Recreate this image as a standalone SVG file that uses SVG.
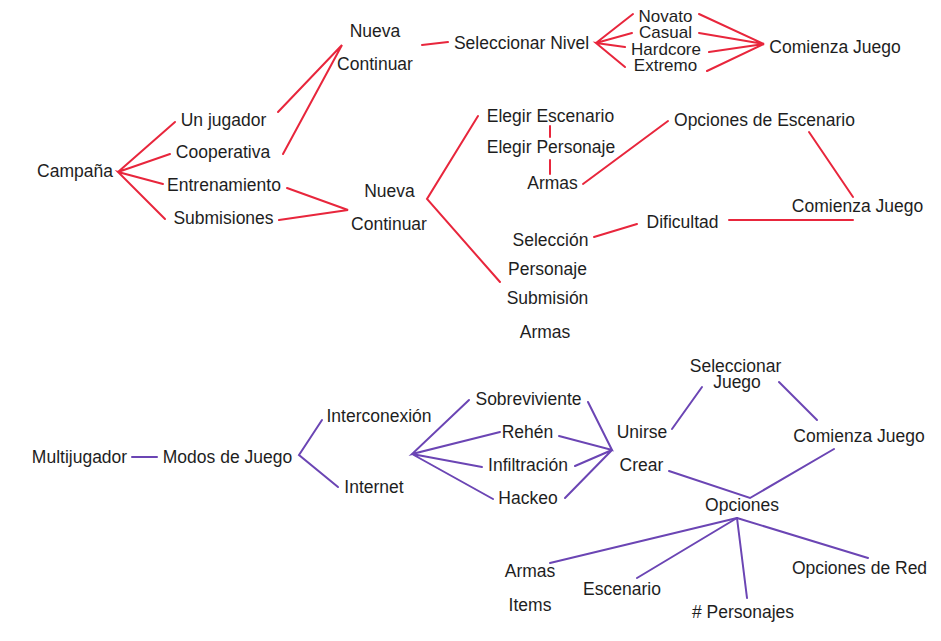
<svg xmlns="http://www.w3.org/2000/svg" width="941" height="641" viewBox="0 0 941 641">
<style>
text{font-family:"Liberation Sans",Arial,sans-serif;font-size:17.5px;fill:#1e1e1e;text-anchor:middle}
text.s{font-size:17px}
.r line,.r polyline{stroke:#e8263c;stroke-width:2;fill:none;stroke-linecap:round;stroke-linejoin:miter}
.p line,.p polyline{stroke:#6b45b4;stroke-width:2;fill:none;stroke-linecap:round;stroke-linejoin:miter}
</style>
<rect width="941" height="641" fill="#ffffff"/>
<g id="connectors">
<g class="r">
<polyline points="175,122 118,172 170,154"/>
<polyline points="163,184 118,172 165,219"/>
<polyline points="278,112 342,45 283,154"/>
<polyline points="287,188 348,210 279,220"/>
<line x1="422" y1="45" x2="448" y2="42"/>
<polyline points="633,14 596,43 632,33"/>
<polyline points="625,47 596,43 625,67"/>
<polyline points="699,14 764,44 699,33"/>
<polyline points="709,52 764,44 707,71"/>
<polyline points="478,116 427,199 500,282"/>
<line x1="550" y1="126" x2="550" y2="137"/>
<line x1="550" y1="160" x2="550" y2="174"/>
<line x1="583" y1="184" x2="668" y2="121"/>
<line x1="809" y1="132" x2="853" y2="197"/>
<line x1="729" y1="220" x2="853" y2="220"/>
<line x1="594" y1="237" x2="637" y2="224"/>
</g>
<g class="p">
<line x1="132" y1="457" x2="157" y2="457"/>
<polyline points="322,420 299,455 338,487"/>
<polyline points="469,400 412,454 500,432"/>
<polyline points="482,467 412,454 493,499"/>
<polyline points="588,402 612,450 559,436"/>
<polyline points="575,466 612,450 565,498"/>
<line x1="672" y1="429" x2="702" y2="387"/>
<line x1="779" y1="382" x2="817" y2="420"/>
<polyline points="669,471 750,498 834,449"/>
<line x1="737" y1="518" x2="550" y2="563"/>
<line x1="737" y1="518" x2="637" y2="578"/>
<line x1="737" y1="518" x2="747" y2="598"/>
<line x1="737" y1="518" x2="868" y2="558"/>
</g>
</g>
<g id="campana"><text x="75" y="177">Campaña</text></g>
<g id="un-jugador"><text x="223.5" y="125.5">Un jugador</text></g>
<g id="cooperativa"><text x="223" y="158">Cooperativa</text></g>
<g id="entrenamiento"><text x="224" y="191">Entrenamiento</text></g>
<g id="submisiones"><text x="223.5" y="224">Submisiones</text></g>
<g id="nueva1"><text x="375" y="36.5">Nueva</text></g>
<g id="continuar1"><text x="375" y="70">Continuar</text></g>
<g id="nueva2"><text x="389.5" y="197">Nueva</text></g>
<g id="continuar2"><text x="389" y="230">Continuar</text></g>
<g id="seleccionar-nivel"><text x="521.5" y="49">Seleccionar Nivel</text></g>
<g id="novato"><text class="s" x="665.5" y="21.5">Novato</text></g>
<g id="casual"><text class="s" x="665.5" y="38">Casual</text></g>
<g id="hardcore"><text class="s" x="666" y="54.5">Hardcore</text></g>
<g id="extremo"><text class="s" x="665.5" y="71">Extremo</text></g>
<g id="comienza1"><text x="835" y="53">Comienza Juego</text></g>
<g id="elegir-escenario"><text x="550.5" y="121.5">Elegir Escenario</text></g>
<g id="elegir-personaje"><text x="551" y="153">Elegir Personaje</text></g>
<g id="armas1"><text x="552.5" y="189">Armas</text></g>
<g id="opciones-escenario"><text x="764.5" y="125.5">Opciones de Escenario</text></g>
<g id="comienza2"><text x="857.5" y="211.5">Comienza Juego</text></g>
<g id="dificultad"><text x="682.5" y="227.5">Dificultad</text></g>
<g id="seleccion"><text x="550.5" y="246">Selección</text></g>
<g id="personaje"><text x="547.5" y="275">Personaje</text></g>
<g id="submision"><text x="547.5" y="304">Submisión</text></g>
<g id="armas2"><text x="545" y="338">Armas</text></g>
<g id="multijugador"><text x="79.5" y="462.5">Multijugador</text></g>
<g id="modos"><text x="227.5" y="463">Modos de Juego</text></g>
<g id="interconexion"><text x="379" y="421.5">Interconexión</text></g>
<g id="internet"><text x="374" y="492.5">Internet</text></g>
<g id="sobreviviente"><text x="528.5" y="405">Sobreviviente</text></g>
<g id="rehen"><text x="527.5" y="437.5">Rehén</text></g>
<g id="infiltracion"><text x="528" y="471">Infiltración</text></g>
<g id="hackeo"><text x="528" y="504">Hackeo</text></g>
<g id="unirse"><text x="642" y="437.5">Unirse</text></g>
<g id="crear"><text x="641.5" y="471">Crear</text></g>
<g id="seleccionar-juego"><text x="735.5" y="371.5">Seleccionar</text><text x="737" y="387.5">Juego</text></g>
<g id="comienza3"><text x="859" y="441.5">Comienza Juego</text></g>
<g id="opciones"><text x="742" y="510.5">Opciones</text></g>
<g id="armas3"><text x="530" y="576.5">Armas</text></g>
<g id="items"><text x="530" y="610.5">Items</text></g>
<g id="escenario"><text x="622" y="595">Escenario</text></g>
<g id="personajes"><text x="743" y="617.5"># Personajes</text></g>
<g id="opciones-red"><text x="859.5" y="574">Opciones de Red</text></g>
</svg>
